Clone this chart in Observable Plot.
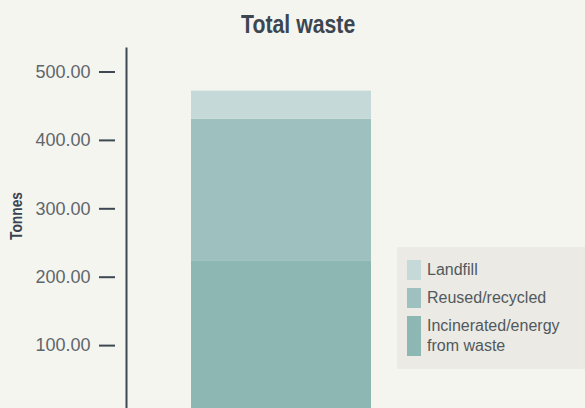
<!DOCTYPE html>
<html>
<head>
<meta charset="utf-8">
<script src="https://cdn.jsdelivr.net/npm/d3@7"></script>
<script src="https://cdn.jsdelivr.net/npm/@observablehq/plot@0.6"></script>
<style>
html, body { margin: 0; padding: 0; background: #f5f5f0; }
#wrap { position: relative; width: 585px; height: 408px; overflow: hidden; font-family: "Liberation Sans", Arial, sans-serif; background: #f5f5f0; }
#title { position: absolute; left: 0; top: 12px; width: 596px; text-align: center; line-height: 25px; }
#title span { display: inline-block; font-weight: bold; font-size: 25px; color: #3c4650; transform: scaleX(0.85); transform-origin: center; }
#legend { position: absolute; left: 397px; top: 247px; width: 188px; height: 122px; box-sizing: border-box; padding: 13px 0 0 10px; background: #ebeae4; }
.row { display: flex; margin-bottom: 8px; }
.sw { width: 14px; flex: none; }
.lt { margin-left: 6px; width: 158px; font-size: 16px; line-height: 20px; color: #51595e; }
#chart svg { display: block; }
</style>
</head>
<body>
<div id="wrap">
  <div id="chart"></div>
  <div id="title"></div>
  <div id="legend"></div>
</div>
<script>
// Data
const chartTitle = "Total waste";
const yLabel = "Tonnes";
const group = "Total waste";
const categories = ["Landfill", "Reused/recycled", "Incinerated/energy from waste"];
const values = [41, 208, 223];
const colors = ["#c5dad8", "#9ec1bf", "#8cb7b3"];
const yTicks = [100, 200, 300, 400, 500];

// stack bottom-to-top: incinerated, reused, landfill
const rows = categories.map((c, i) => ({group, category: c, value: values[i]})).reverse();

const plot = Plot.plot({
  width: 585,
  height: 408,
  marginLeft: 126,
  marginTop: 48,
  marginBottom: 0,
  marginRight: 0,
  style: {background: "transparent", fontFamily: "Liberation Sans, Arial, sans-serif"},
  x: {domain: [group], range: [191, 371], padding: 0, axis: null},
  y: {domain: [0, 500], range: [413.5, 71.5]},
  color: {domain: categories, range: colors},
  marks: [
    Plot.barY(rows, {x: "group", y: "value", fill: "category"}),
    Plot.frame({anchor: "left", stroke: "#3d4852", strokeWidth: 2}),
    Plot.axisY({
      ticks: yTicks,
      tickFormat: d3.format(".2f"),
      tickSize: 16,
      tickPadding: 9,
      dx: -11,
      stroke: "#3d4852",
      strokeWidth: 2,
      fill: "#5f666b",
      fontSize: 18,
      label: null
    }),
    Plot.text([yLabel], {
      text: d => d,
      frameAnchor: "left",
      textAnchor: "middle",
      lineAnchor: "middle",
      rotate: -90,
      dx: -109.5,
      dy: -12.5,
      fontSize: 17,
      fontWeight: "bold",
      fill: "#3a4450",
      className: "ylabel"
    })
  ]
});
document.getElementById("chart").appendChild(plot);

// condense the axis label to match the narrow bold face of the original
d3.select(plot).selectAll(".ylabel text")
  .attr("textLength", 48)
  .attr("lengthAdjust", "spacingAndGlyphs");

document.getElementById("title").innerHTML = `<span>${chartTitle}</span>`;

const legend = d3.select("#legend");
categories.forEach((c, i) => {
  const r = legend.append("div").attr("class", "row");
  r.append("div").attr("class", "sw").style("background", colors[i]);
  r.append("div").attr("class", "lt").text(c);
});
</script>
</body>
</html>
